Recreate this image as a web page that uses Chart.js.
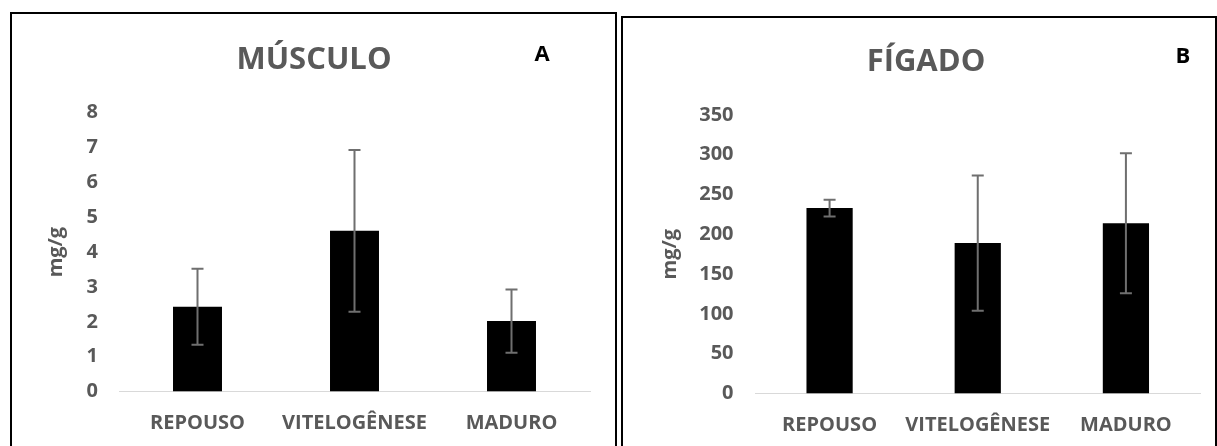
<!DOCTYPE html>
<html><head><meta charset="utf-8">
<script src="https://cdn.jsdelivr.net/npm/chart.js@4.4.0/dist/chart.umd.min.js"></script>
<style>
html,body{margin:0;padding:0;background:#fff;width:1217px;height:446px;overflow:hidden;position:relative}
.panel{position:absolute;border:2px solid #000;box-sizing:border-box;height:520px}
#pA{left:10px;top:12px;width:607px}
#pB{left:621px;top:16px;width:596px}
.cw{position:absolute;top:0;height:446px}
#wA{left:0;width:617px}
#wB{left:617px;width:600px}
</style></head><body>
<div class="panel" id="pA"></div><div class="panel" id="pB"></div>
<div class="cw" id="wA"><canvas id="cA" width="617" height="446"></canvas></div>
<div class="cw" id="wB"><canvas id="cB" width="600" height="446"></canvas></div>
<script>
const categories = ['REPOUSO', 'VITELOGÊNESE', 'MADURO'];
const musculoMeans = [2.43, 4.61, 2.02];
const musculoSD = [1.09, 2.32, 0.91];
const figadoMeans = [233, 189, 214];
const figadoSD = [10.5, 85, 88];
const musculoTicks = {max: 8, step: 1};
const figadoTicks = {max: 350, step: 50};
const axisTitle = 'mg/g';

const FONT = "'Open Sans', sans-serif";
const GRAY = '#595959';

const errorBars = {
  id: 'errorBars',
  afterDatasetsDraw(chart, args, opts) {
    const ctx = chart.ctx;
    const y = chart.scales.y;
    const meta = chart.getDatasetMeta(0);
    ctx.save();
    ctx.strokeStyle = '#6f6f6f';
    ctx.lineWidth = 2;
    opts.means.forEach((m, i) => {
      const x = meta.data[i].x;
      const yt = y.getPixelForValue(m + opts.sd[i]);
      const yb = y.getPixelForValue(m - opts.sd[i]);
      ctx.beginPath();
      ctx.moveTo(x, yt); ctx.lineTo(x, yb);
      ctx.moveTo(x - 6, yt); ctx.lineTo(x + 6, yt);
      ctx.moveTo(x - 6, yb); ctx.lineTo(x + 6, yb);
      ctx.stroke();
    });
    ctx.restore();
  }
};

const headings = {
  id: 'headings',
  afterDraw(chart, args, opts) {
    const ctx = chart.ctx;
    ctx.save();
    ctx.textAlign = 'center';
    ctx.textBaseline = 'middle';
    ctx.fillStyle = GRAY;
    ctx.font = "bold 31px " + FONT;
    ctx.fillText(opts.title, opts.tx, opts.ty);
    ctx.fillStyle = '#000';
    ctx.font = "bold 22px " + FONT;
    ctx.fillText(opts.letter, opts.lx, opts.ly);
    ctx.restore();
  }
};

function makeChart(id, means, sd, ticks, cfg) {
  return new Chart(document.getElementById(id), {
    type: 'bar',
    data: {
      labels: categories,
      datasets: [{
        data: means,
        backgroundColor: '#000',
        borderWidth: 0,
        categoryPercentage: 1,
        barPercentage: 0.312
      }]
    },
    options: {
      responsive: false,
      animation: false,
      layout: {padding: {left: 30, right: cfg.padRight, top: cfg.padTop, bottom: 0}},
      plugins: {
        legend: {display: false},
        tooltip: {enabled: false},
        title: {display: false},
        errorBars: {means: means, sd: sd},
        headings: cfg.headings
      },
      scales: {
        x: {
          grid: {display: false, drawTicks: false},
          border: {display: true, color: '#d9d9d9', width: 1},
          ticks: {color: GRAY, font: {family: FONT, size: 20, weight: 'bold'}, padding: 19.5, maxRotation: 0, autoSkip: false},
          afterFit(s) { s.height = cfg.xHeight; }
        },
        y: {
          min: 0, max: ticks.max,
          grid: {display: false, drawTicks: false},
          border: {display: false},
          ticks: {stepSize: ticks.step, color: GRAY, font: {family: FONT, size: 20, weight: 'bold'}, padding: cfg.tickPad},
          title: {display: true, text: axisTitle, color: GRAY, font: {family: FONT, size: 20, weight: 'bold'}, padding: {top: cfg.titlePad, bottom: 0}},
          afterFit(s) { s.width = cfg.yWidth; }
        }
      }
    },
    plugins: [errorBars, headings]
  });
}

makeChart('cA', musculoMeans, musculoSD, musculoTicks, {
  padRight: 27, padTop: 112.7, xHeight: 54.5, yWidth: 89, tickPad: 21, titlePad: 14,
  headings: {title: 'MÚSCULO', tx: 314, ty: 60, letter: 'A', lx: 542, ly: 55}
});
makeChart('cB', figadoMeans, figadoSD, figadoTicks, {
  padRight: 17, padTop: 115, xHeight: 52.5, yWidth: 108.5, tickPad: 22, titlePad: 11,
  headings: {title: 'FÍGADO', tx: 309, ty: 62.5, letter: 'B', lx: 566, ly: 57}
});
</script>
</body></html>
